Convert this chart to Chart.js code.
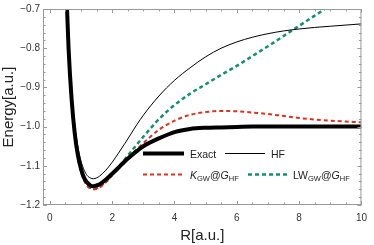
<!DOCTYPE html>
<html><head><meta charset="utf-8">
<script src="https://cdn.jsdelivr.net/npm/chart.js@4.4.1/dist/chart.umd.min.js"></script>
<style>html,body{margin:0;padding:0;background:#fff}#wrap{width:374px;height:245px}</style>
</head><body><div id="wrap"><canvas id="c"></canvas></div>
<script>
const R = [0.5,0.6,0.7,0.8,0.9,1.0,1.1,1.2,1.3,1.4,1.5,1.6,1.8,2.0,2.2,2.4,2.6,2.8,3.0,3.5,4.0,4.5,5.0,5.5,6.0,6.5,7.0,7.5,8.0,8.5,9.0,9.5,10.0];
const exactE = [-0.588,-0.800,-0.932,-1.018,-1.073,-1.108,-1.131,-1.143,-1.150,-1.152,-1.150,-1.147,-1.135,-1.120,-1.105,-1.089,-1.075,-1.062,-1.050,-1.030,-1.014,-1.006,-1.003,-1.002,-1.001,-1.000,-1.000,-1.000,-1.000,-1.000,-1.000,-1.000,-1.000];
const hfE = [-0.580,-0.790,-0.915,-0.998,-1.052,-1.088,-1.111,-1.125,-1.131,-1.133,-1.131,-1.126,-1.111,-1.091,-1.068,-1.044,-1.019,-0.994,-0.971,-0.922,-0.882,-0.850,-0.822,-0.800,-0.784,-0.772,-0.763,-0.756,-0.751,-0.747,-0.744,-0.741,-0.738];
const kgwE = [-0.585,-0.800,-0.933,-1.021,-1.078,-1.114,-1.137,-1.151,-1.158,-1.160,-1.159,-1.155,-1.142,-1.125,-1.107,-1.089,-1.072,-1.057,-1.042,-1.008,-0.985,-0.970,-0.963,-0.960,-0.961,-0.964,-0.968,-0.973,-0.978,-0.982,-0.985,-0.987,-0.989];
const lwE = [-0.586,-0.799,-0.932,-1.019,-1.076,-1.112,-1.136,-1.149,-1.156,-1.158,-1.157,-1.153,-1.140,-1.123,-1.104,-1.084,-1.064,-1.045,-1.026,-0.981,-0.945,-0.916,-0.892,-0.868,-0.845,-0.820,-0.795,-0.769,-0.743,-0.717,-0.691,-0.665,-0.639];
const xTicks = [0,2,4,6,8,10];
const yTicks = [-1.2,-1.1,-1.0,-0.9,-0.8,-0.7];
const xTickLabels = ['0','2','4','6','8','10'];
const yTickLabels = ['\u22121.2','\u22121.1','\u22121.0','\u22120.9','\u22120.8','\u22120.7'];

const RED = '#dc3220', GREEN = '#14906c';
const FAM = '"Liberation Sans", Arial, sans-serif';
const pts = arr => R.map((r,i)=>({x:r,y:arr[i]}));

const framePlugin = {
  id:'frame',
  afterDatasetsDraw(chart){
    const {ctx, chartArea:a, scales:{x,y}} = chart;
    ctx.save();
    ctx.strokeStyle = '#9a9a9a'; ctx.lineWidth = 1;
    ctx.strokeRect(a.left+0.5, a.top+0.5, a.right-a.left-1, a.bottom-a.top-1);
    ctx.beginPath();
    for(let v=0; v<=10.001; v+=0.5){
      const px = Math.round(x.getPixelForValue(v))+0.5;
      const L = (Math.abs(v/2-Math.round(v/2))<1e-6)?4:2.5;
      ctx.moveTo(px,a.bottom); ctx.lineTo(px,a.bottom-L);
      ctx.moveTo(px,a.top); ctx.lineTo(px,a.top+L);
    }
    for(let k=0; k<=25; k++){
      const v = -1.2 + k*0.02;
      const py = Math.round(y.getPixelForValue(v))+0.5;
      const L = (k%5===0)?4:2.5;
      ctx.moveTo(a.left,py); ctx.lineTo(a.left+L,py);
      ctx.moveTo(a.right,py); ctx.lineTo(a.right-L,py);
    }
    ctx.stroke();
    ctx.restore();
  }
};

const legendPlugin = {
  id:'customLegend',
  afterDraw(chart){
    const ctx = chart.ctx;
    const ds = chart.data.datasets;
    ctx.save();
    const seg = (x0,x1,yy,d)=>{
      ctx.beginPath(); ctx.strokeStyle=d.borderColor; ctx.lineWidth=d.borderWidth;
      ctx.setLineDash(d.borderDash||[]); ctx.moveTo(x0,yy); ctx.lineTo(x1,yy); ctx.stroke(); ctx.setLineDash([]);
    };
    const runs = (x0,yy,parts)=>{
      let xx=x0;
      ctx.fillStyle='#222'; ctx.textBaseline='alphabetic'; ctx.textAlign='left';
      for(const p of parts){
        const sz = p.sub?7.5:10.5;
        ctx.font = (p.it?'italic ':'')+sz+'px '+FAM;
        ctx.fillText(p.t, xx, yy+(p.sub?2.5:0));
        xx += ctx.measureText(p.t).width;
      }
    };
    seg(143,184,153.5,ds[0]); runs(190,157.5,[{t:ds[0].label}]);
    seg(225,265,153.5,ds[1]); runs(271,157.5,[{t:ds[1].label}]);
    seg(143,182,174.5,ds[2]); runs(190,178.5,[{t:'K',it:1},{t:'GW',sub:1},{t:'@'},{t:'G',it:1},{t:'HF',sub:1}]);
    seg(248,287,174.5,ds[3]); runs(293,178.5,[{t:'LW'},{t:'GW',sub:1},{t:'@'},{t:'G',it:1},{t:'HF',sub:1}]);
    ctx.restore();
  }
};

new Chart(document.getElementById('c'), {
  type:'line',
  data:{datasets:[
    {label:'Exact', data:pts(exactE), borderColor:'#000', borderWidth:4, pointRadius:0, cubicInterpolationMode:'monotone', clip:0},
    {label:'HF', data:pts(hfE), borderColor:'#000', borderWidth:1, pointRadius:0, cubicInterpolationMode:'monotone', clip:0},
    {label:'KGW@GHF', data:pts(kgwE), borderColor:RED, borderWidth:2, borderDash:[4,3], pointRadius:0, cubicInterpolationMode:'monotone', clip:0},
    {label:'LWGW@GHF', data:pts(lwE), borderColor:GREEN, borderWidth:2.5, borderDash:[4,3], pointRadius:0, cubicInterpolationMode:'monotone', clip:0}
  ]},
  options:{
    responsive:true, maintainAspectRatio:false, animation:false,
    layout:{padding:{top:3,right:8,left:0,bottom:0}},
    plugins:{legend:{display:false}, tooltip:{enabled:false}},
    scales:{
      x:{type:'linear', min:-0.22, max:10,
        afterBuildTicks:s=>{s.ticks = xTicks.map(v=>({value:v}));},
        afterFit:s=>{s.height=40;},
        grid:{display:false, drawTicks:false}, border:{display:false},
        ticks:{padding:7, color:'#333', font:{family:FAM, size:10}, maxRotation:0,
          callback:(v)=>xTickLabels[xTicks.indexOf(v)]},
        title:{display:true, text:'R[a.u.]', color:'#222', padding:{top:5,bottom:0}, font:{family:FAM, size:15}}
      },
      y:{type:'linear', min:-1.2, max:-0.7,
        afterBuildTicks:s=>{s.ticks = yTicks.map(v=>({value:v}));},
        afterFit:s=>{s.width=43;},
        grid:{display:false, drawTicks:false}, border:{display:false},
        ticks:{padding:3, color:'#333', font:{family:FAM, size:10},
          callback:(v)=>{const i=yTicks.findIndex(t=>Math.abs(t-v)<1e-9); return yTickLabels[i];}},
        title:{display:true, text:'Energy[a.u.]', color:'#222', padding:{top:0,bottom:0}, font:{family:FAM, size:15}}
      }
    }
  },
  plugins:[framePlugin, legendPlugin]
});
</script></body></html>
